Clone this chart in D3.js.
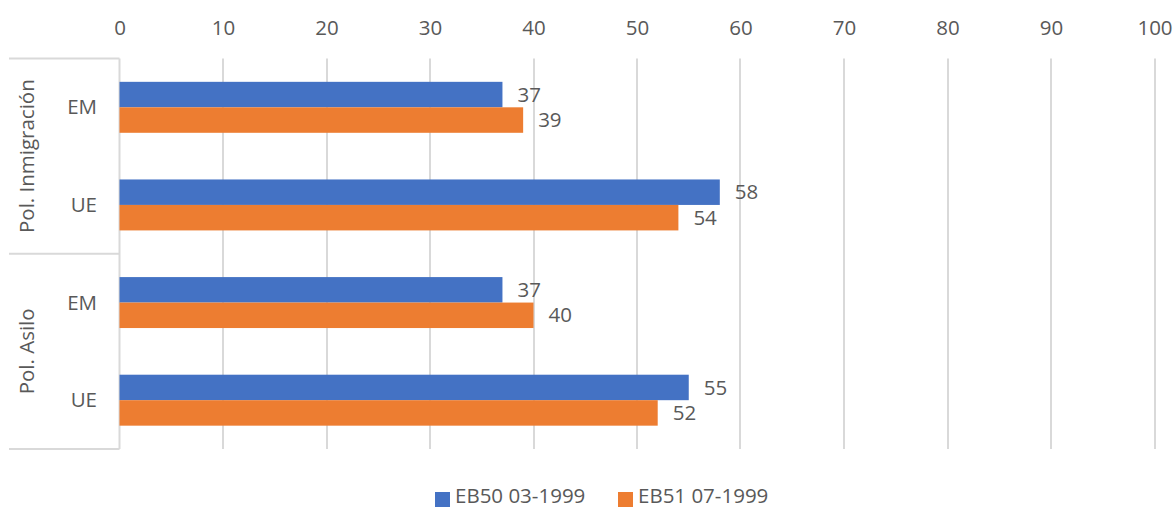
<!DOCTYPE html>
<html><head><meta charset="utf-8">
<script src="https://cdn.jsdelivr.net/npm/d3@7"></script>
<style>body{margin:0;background:#fff}svg{display:block}text{font-family:"Open Sans","Noto Sans",sans-serif;fill:#595959}</style>
</head><body><svg id="c" width="1176" height="508"></svg>
<script>
const groups = ["Pol. Inmigración", "Pol. Asilo"];
const categories = [
  {group: "Pol. Inmigración", label: "EM"},
  {group: "Pol. Inmigración", label: "UE"},
  {group: "Pol. Asilo", label: "EM"},
  {group: "Pol. Asilo", label: "UE"}
];
const seriesNames = ["EB50 03-1999", "EB51 07-1999"];
const eb50 = [37, 58, 37, 55];
const eb51 = [39, 54, 40, 52];
const xTicks = [0,10,20,30,40,50,60,70,80,90,100];
const colors = ["#4472C4", "#ED7D31"];

const FS = 20.5;
const svg = d3.select("#c");
const L = 119.5, R = 1154.5, T = 58.5, B = 449;
const x = d3.scaleLinear().domain([0,100]).range([L,R]);
const y = d3.scaleBand().domain(d3.range(categories.length)).range([T,B]).paddingInner(0.478).paddingOuter(0.239);
const ys = d3.scaleBand().domain([0,1]).range([0, y.bandwidth()]);

// gridlines
svg.append("g").selectAll("line").data(xTicks.slice(1)).join("line")
  .attr("x1", d=>Math.round(x(d))).attr("x2", d=>Math.round(x(d)))
  .attr("y1", T).attr("y2", B).attr("stroke", "#d9d9d9").attr("stroke-width", 2);

// top tick labels
const ax = d3.axisTop(x).tickValues(xTicks).tickSize(0).tickPadding(0);
const gax = svg.append("g").attr("transform", "translate(0,35)").call(ax);
gax.select(".domain").remove();
gax.selectAll("text").attr("font-size", FS).attr("fill", "#595959").style("font-family", '"Open Sans","Noto Sans",sans-serif');

// category axis frame
const fr = svg.append("g").attr("stroke", "#d9d9d9").attr("stroke-width", 2);
fr.append("line").attr("x1", L).attr("x2", L).attr("y1", T).attr("y2", B);
const bandEdge = i => T + (B - T) / categories.length * i;
[0, 2, 4].forEach(i => {
  fr.append("line").attr("x1", 9).attr("x2", L).attr("y1", bandEdge(i)).attr("y2", bandEdge(i));
});

// bars
const series = [eb50, eb51];
series.forEach((vals, s) => {
  svg.append("g").selectAll("rect").data(vals).join("rect")
    .attr("x", x(0)).attr("y", (d,i)=>y(i)+ys(s))
    .attr("width", d=>x(d)-x(0)).attr("height", ys.bandwidth())
    .attr("fill", colors[s]);
  svg.append("g").selectAll("text").data(vals).join("text")
    .attr("x", d=>x(d)+15).attr("y", (d,i)=>y(i)+ys(s)+ys.bandwidth()/2)
    .attr("dy", "0.35em").attr("font-size", FS).text(d=>d);
});

// category labels
svg.append("g").selectAll("text").data(categories).join("text")
  .attr("x", 97).attr("y", (d,i)=>y(i)+y.bandwidth()/2).attr("dy","0.35em")
  .attr("text-anchor","end").attr("font-size", FS).text(d=>d.label);

// group labels
groups.forEach((g, gi) => {
  const cy = (bandEdge(gi*2) + bandEdge(gi*2+2)) / 2;
  svg.append("text").attr("transform", `translate(34,${cy}) rotate(-90)`)
    .attr("text-anchor","middle").attr("font-size", FS).text(g);
});

// legend
const leg = [{x:435}, {x:618}];
seriesNames.forEach((n, i) => {
  svg.append("rect").attr("x", leg[i].x).attr("y", 492).attr("width", 15).attr("height", 15).attr("fill", colors[i]);
  svg.append("text").attr("x", leg[i].x + 20).attr("y", 503).attr("font-size", FS).text(n);
});
</script></body></html>
